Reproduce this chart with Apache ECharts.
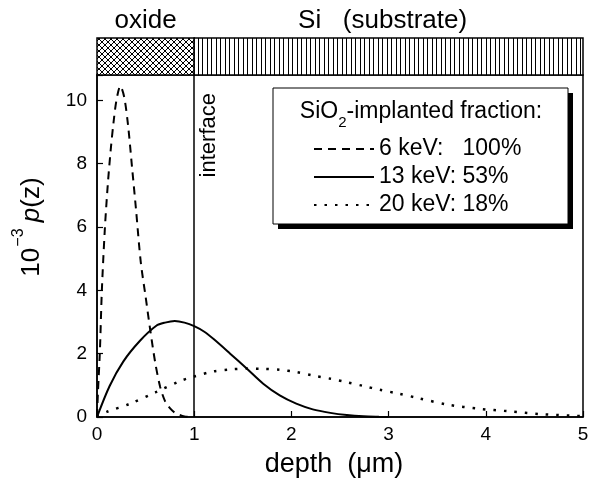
<!DOCTYPE html>
<html>
<head>
<meta charset="utf-8">
<script src="https://cdn.jsdelivr.net/npm/echarts@6/dist/echarts.min.js"></script>
<style>html,body{margin:0;padding:0;background:#fff}#c{width:595px;height:485px}</style>
</head>
<body>
<div id="c"></div>
<script>
// ---- data ----
const seriesNames = ['6 keV:   100%', '13 keV: 53%', '20 keV: 18%'];
const depth6 = [0, 0.01, 0.03, 0.05, 0.08, 0.11, 0.14, 0.17, 0.20, 0.24, 0.28, 0.32, 0.36, 0.40, 0.45, 0.50, 0.55, 0.60, 0.65, 0.70, 0.75, 0.80, 0.85, 0.90, 0.95];
const p6 =     [0, 0.8, 2.1, 4.0, 5.9, 7.3, 8.4, 9.3, 10.0, 10.45, 10.1, 9.2, 7.9, 6.6, 4.9, 3.8, 2.7, 1.7, 0.95, 0.5, 0.28, 0.14, 0.07, 0.02, 0.0];
const depth13 = [0, 0.13, 0.27, 0.44, 0.61, 0.70, 0.80, 0.90, 1.0, 1.1, 1.2, 1.37, 1.54, 1.71, 1.88, 2.05, 2.22, 2.40, 2.57, 2.74, 2.9, 3.0];
const p13 =     [0, 0.98, 1.75, 2.4, 2.88, 2.98, 3.03, 2.98, 2.87, 2.7, 2.46, 2.0, 1.53, 1.05, 0.68, 0.42, 0.24, 0.13, 0.06, 0.02, 0.005, 0];
const depth20 = [0, 0.1, 0.34, 0.61, 0.85, 1.0, 1.2, 1.37, 1.54, 1.71, 1.88, 2.05, 2.22, 2.40, 2.57, 2.74, 2.91, 3.1, 3.3, 3.61, 3.93, 4.24, 4.57, 4.89, 5.0];
const p20 =     [0, 0.16, 0.42, 0.79, 1.13, 1.28, 1.44, 1.50, 1.53, 1.52, 1.49, 1.42, 1.31, 1.21, 1.1, 0.98, 0.86, 0.74, 0.6, 0.39, 0.26, 0.18, 0.09, 0.04, 0.03];
const layerNames = ['oxide', 'Si   (substrate)'];
const layerStart = [0, 1];
const layerEnd = [1, 5];
const interfaceDepth = 1;
const yTicks = [0, 2, 4, 6, 8, 10];

// ---- patterns ----
function crossPattern() {
  const c = document.createElement('canvas'); c.width = 6; c.height = 6;
  const g = c.getContext('2d'); g.fillStyle = '#fff'; g.fillRect(0,0,6,6);
  g.strokeStyle = '#000'; g.lineWidth = 1;
  g.beginPath(); g.moveTo(0,0); g.lineTo(6,6); g.moveTo(6,0); g.lineTo(0,6); g.stroke();
  return c;
}
function vertPattern() {
  const c = document.createElement('canvas'); c.width = 9; c.height = 4;
  const g = c.getContext('2d'); g.fillStyle = '#fff'; g.fillRect(0,0,9,4);
  g.fillStyle = '#000'; g.fillRect(0,0,1,4); g.fillRect(4,0,1,4);
  return c;
}
const patterns = [{image: crossPattern(), repeat: 'repeat'}, {image: vertPattern(), repeat: 'repeat'}];
const labelShift = [0, -6];

const zip = (a, b) => a.map((v, i) => [v, b[i]]);
const FONT = 'Liberation Sans, Arial, sans-serif';

const chart = echarts.init(document.getElementById('c'), null, {renderer: 'canvas'});
chart.setOption({
  animation: false,
  backgroundColor: '#fff',
  textStyle: {fontFamily: FONT, color: '#000'},
  grid: [
    {left: 97, right: 12, top: 75, bottom: 68, show: true, borderColor: '#000', borderWidth: 1.5, containLabel: false},
    {left: 97, right: 12, top: 38, height: 37, show: false}
  ],
  xAxis: [
    {type: 'value', gridIndex: 0, min: 0, max: 5, interval: 1,
     name: 'depth  (\u03bcm)', nameLocation: 'middle', nameGap: 34,
     nameTextStyle: {fontSize: 27, color: '#000', fontFamily: FONT, padding: [0, 12, 0, 0]},
     axisLine: {lineStyle: {color: '#000', width: 1.5}},
     axisTick: {inside: true, length: 6, lineStyle: {color: '#000', width: 1.2}},
     axisLabel: {fontSize: 19, color: '#000', margin: 8, fontFamily: FONT},
     splitLine: {show: false}},
    {type: 'value', gridIndex: 1, min: 0, max: 5, show: false}
  ],
  yAxis: [
    {type: 'value', gridIndex: 0, min: 0, max: 10.8, interval: 2,
     name: '{n|10}{s|\u22123} {i|p}{n|(z)}', nameLocation: 'middle', nameGap: 52, nameRotate: 90,
     nameTextStyle: {padding: [0, 0, 0, 38], rich: {
       n: {fontSize: 26, fontFamily: FONT, color: '#000', lineHeight: 34, verticalAlign: 'bottom'},
       s: {fontSize: 16, fontFamily: FONT, color: '#000', lineHeight: 34, verticalAlign: 'top', padding: [0, 3, 0, 1]},
       i: {fontSize: 26, fontFamily: FONT, fontStyle: 'italic', color: '#000', lineHeight: 34, verticalAlign: 'bottom'}
     }},
     axisLine: {lineStyle: {color: '#000', width: 1.5}},
     axisTick: {inside: true, length: 6, lineStyle: {color: '#000', width: 1.2}},
     axisLabel: {fontSize: 19, color: '#000', margin: 10, fontFamily: FONT,
       formatter: v => (yTicks.indexOf(v) >= 0 ? String(v) : '')},
     splitLine: {show: false}},
    {type: 'value', gridIndex: 1, min: 0, max: 1, show: false}
  ],
  legend: {
    orient: 'vertical', left: 313, top: 137, padding: 0, itemWidth: 60, itemHeight: 14, itemGap: 4,
    data: seriesNames, selectedMode: false,
    itemStyle: {opacity: 0},
    textStyle: {fontSize: 23, lineHeight: 24, color: '#000', fontFamily: FONT},
    backgroundColor: 'transparent', z: 10
  },
  graphic: [
    {type: 'rect', z: 1, shape: {x: 278, y: 93, width: 295, height: 136}, style: {fill: '#000'}},
    {type: 'rect', z: 2, shape: {x: 273, y: 88, width: 295, height: 136},
     style: {fill: '#fff', stroke: '#000', lineWidth: 1}},
    {type: 'text', z: 3, style: {
       x: 421, y: 115, text: '{a|SiO}{b|2}{a|-implanted fraction:}', align: 'center', verticalAlign: 'middle',
       rich: {a: {fontSize: 23, fontFamily: FONT, fill: '#000', lineHeight: 30, verticalAlign: 'top'},
              b: {fontSize: 15, fontFamily: FONT, fill: '#000', lineHeight: 30, verticalAlign: 'bottom'}}}}
  ],
  series: [
    {type: 'custom', xAxisIndex: 1, yAxisIndex: 1, silent: true,
     data: layerStart.map((s, i) => [s, layerEnd[i], i]),
     renderItem: (params, api) => {
       const i = api.value(2);
       const p0 = api.coord([api.value(0), 1]);
       const p1 = api.coord([api.value(1), 0]);
       return {type: 'group', children: [
         {type: 'rect', shape: {x: p0[0], y: p0[1], width: p1[0] - p0[0], height: p1[1] - p0[1]},
          style: {fill: patterns[i], stroke: '#000', lineWidth: 1.5}},
         {type: 'text', style: {x: (p0[0] + p1[0]) / 2 + labelShift[i], y: p0[1] - 4, text: layerNames[i],
           align: 'center', verticalAlign: 'bottom', font: '26px ' + FONT, fill: '#000'}}
       ]};
     }},
    {name: seriesNames[0], type: 'line', data: zip(depth6, p6), smooth: 0.3, showSymbol: false, symbol: 'none',
     lineStyle: {color: '#000', width: 2, type: [8, 6]}, itemStyle: {color: '#000'}},
    {name: seriesNames[1], type: 'line', data: zip(depth13, p13), smooth: 0.3, showSymbol: false, symbol: 'none',
     lineStyle: {color: '#000', width: 2, type: 'solid'}, itemStyle: {color: '#000'},
     markLine: {silent: true, symbol: 'none', data: [{xAxis: interfaceDepth}],
       lineStyle: {color: '#000', width: 1.5, type: 'solid'},
       label: {show: true, formatter: 'interface', position: 'insideEndBottom', fontSize: 22, color: '#000', fontFamily: FONT,
               distance: 4, padding: [0, 14, 0, 0]}}},
    {name: seriesNames[2], type: 'line', data: zip(depth20, p20), smooth: 0.3, showSymbol: false, symbol: 'none',
     lineStyle: {color: '#000', width: 2.5, type: [2.5, 8]}, itemStyle: {color: '#000'}}
  ]
});
</script>
</body>
</html>
